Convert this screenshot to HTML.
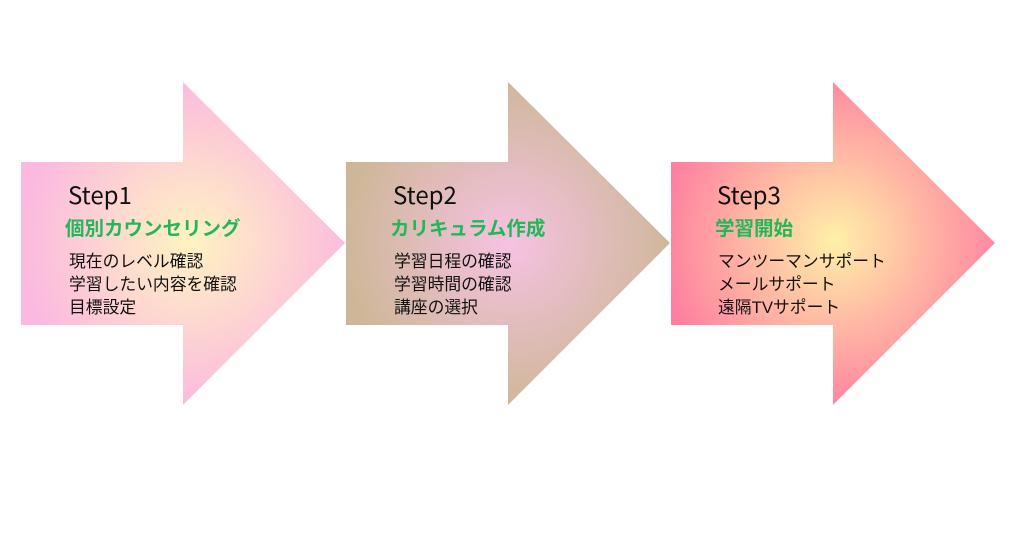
<!DOCTYPE html>
<html><head><meta charset="utf-8"><style>
html,body{margin:0;padding:0;background:#fff;}
svg{display:block}
text{font-family:"Liberation Sans","Noto Sans CJK JP",sans-serif;}
.n{font-family:"Noto Sans CJK JP","Liberation Sans",sans-serif;}
</style></head><body>
<svg width="1024" height="538" viewBox="0 0 1024 538">
<defs>
<radialGradient id="g1" gradientUnits="userSpaceOnUse" cx="190" cy="243" r="170">
<stop offset="0" stop-color="#fff3c2"/><stop offset="1" stop-color="#fbb8e0"/></radialGradient>
<radialGradient id="g2" gradientUnits="userSpaceOnUse" cx="510" cy="243" r="170">
<stop offset="0" stop-color="#f6c2e2"/><stop offset="1" stop-color="#cdb796"/></radialGradient>
<radialGradient id="g3" gradientUnits="userSpaceOnUse" cx="835" cy="240" r="175">
<stop offset="0" stop-color="#fff0a8"/><stop offset="1" stop-color="#ff7fa0"/></radialGradient>
</defs>
<polygon points="21,162 183,162 183,82 345,243 183,405 183,325 21,325" fill="url(#g1)"/>
<polygon points="346,162 508,162 508,82 670,243 508,405 508,325 346,325" fill="url(#g2)"/>
<polygon points="671,162 833,162 833,82 995,243 833,405 833,325 671,325" fill="url(#g3)"/>
<g font-size="24" fill="#111" class="n">
<text x="68" y="204" class="n">Step1</text><text x="393" y="204" class="n">Step2</text><text x="717" y="204" class="n">Step3</text></g>
<g font-size="19.5" font-weight="bold" fill="#22b85a">
<text x="65" y="235">個別カウンセリング</text><text x="390" y="235">カリキュラム作成</text><text x="715" y="235">学習開始</text></g>
<g font-size="16.8" fill="#111">
<text x="69" y="267">現在のレベル確認</text><text x="69" y="290">学習したい内容を確認</text><text x="69" y="313">目標設定</text>
<text x="394" y="267">学習日程の確認</text><text x="394" y="290">学習時間の確認</text><text x="394" y="313">講座の選択</text>
<text x="718" y="267">マンツーマンサポート</text><text x="718" y="290">メールサポート</text><text x="718" y="313">遠隔TVサポート</text>
</g>
</svg>
</body></html>
